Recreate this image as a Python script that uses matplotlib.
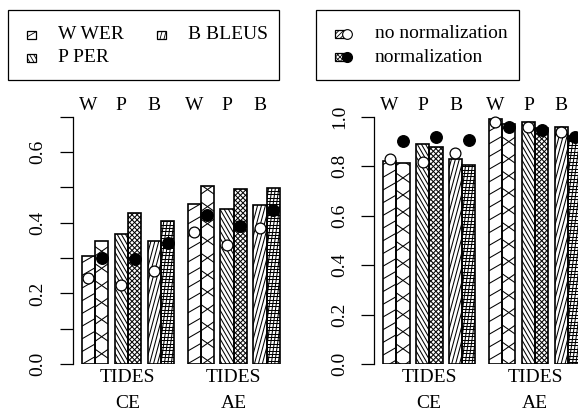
import numpy as np
import matplotlib
matplotlib.use("Agg")
import matplotlib.pyplot as plt
from matplotlib.patches import Rectangle
from matplotlib.collections import LineCollection
from matplotlib.transforms import IdentityTransform, blended_transform_factory

plt.rcParams['font.family'] = ['Liberation Serif', 'DejaVu Serif']

# data
metrics = ['W', 'P', 'B', 'W', 'P', 'B']
groups = ['CE', 'AE']

# left panel: bars (no normalization / normalization) and points
left_bar_nonorm = [0.307, 0.368, 0.348, 0.454, 0.440, 0.451]
left_bar_norm = [0.348, 0.427, 0.404, 0.504, 0.494, 0.499]
left_pt_nonorm = [0.243, 0.225, 0.264, 0.375, 0.338, 0.385]
left_pt_norm = [0.301, 0.298, 0.343, 0.423, 0.390, 0.435]

# right panel
right_bar_nonorm = [0.822, 0.888, 0.828, 0.989, 0.977, 0.957]
right_bar_norm = [0.814, 0.877, 0.803, 0.969, 0.956, 0.920]
right_pt_nonorm = [0.829, 0.818, 0.852, 0.980, 0.960, 0.940]
right_pt_norm = [0.902, 0.917, 0.906, 0.960, 0.946, 0.917]

# hatch styles (angles in degrees, spacing in px) per metric
hatch_nonorm = {'W': ([30], 11), 'P': ([120], 3.6), 'B': ([75], 3.8)}
hatch_norm = {'W': ([35, 145], 14), 'P': ([45, 135], 3.6), 'B': ([0, 82], 3.4)}

W, H = 578, 416
fig = plt.figure(figsize=(W / 100, H / 100), dpi=100)


def hatched_box(ax, x0, y0, w, h, angles, spacing, lw=1.2, hlw=0.75):
    rect = Rectangle((x0, y0), w, h, facecolor='white', edgecolor='none', zorder=2)
    ax.add_patch(rect)
    p0 = ax.transData.transform((x0, y0))
    p1 = ax.transData.transform((x0 + w, y0 + h))
    c = (p0 + p1) / 2
    r = np.hypot(*(p1 - p0)) / 2 + spacing
    nk = int(r / spacing) + 1
    segs = []
    for a in angles:
        t = np.radians(a)
        d = np.array([np.cos(t), np.sin(t)])
        n = np.array([-np.sin(t), np.cos(t)])
        for k in range(-nk, nk + 1):
            p = c + n * k * spacing
            segs.append([p - d * r, p + d * r])
    lc = LineCollection(segs, colors='black', linewidths=hlw,
                        transform=IdentityTransform(), zorder=2.5)
    ax.add_collection(lc, autolim=False)
    lc.set_clip_path(rect)
    ax.add_patch(Rectangle((x0, y0), w, h, facecolor='none', edgecolor='black',
                           lw=lw, zorder=3))


# pair positions: 3 pairs per group, small gap inside group, larger between
starts = []
pos = 0.0
for g in range(len(groups)):
    for m in range(3):
        starts.append(pos)
        pos += 2 + 0.47
    pos += 1.0 - 0.47
starts = np.array(starts)

unit = 13.33
xlim = (-0.65, 16.0)
ax_w = (xlim[1] - xlim[0]) * unit


def panel(left_px, ymax, yticks, ylabels, bnon, bnorm, pnon, pnorm):
    ax = fig.add_axes([left_px / W, (H - 364) / H, ax_w / W, 247.3 / H])
    ax.set_xlim(*xlim)
    ax.set_ylim(0, ymax)
    for s in ['top', 'right', 'bottom']:
        ax.spines[s].set_visible(False)
    ax.spines['left'].set_linewidth(0.9)
    ax.set_xticks([])
    ax.set_yticks(yticks)
    ax.set_yticklabels(ylabels, rotation=90, va='center', fontsize=14)
    ax.tick_params(axis='y', direction='out', length=9.5, width=0.9, pad=9.5)
    for i, s in enumerate(starts):
        m = metrics[i]
        hatched_box(ax, s, 0, 1, bnon[i], *hatch_nonorm[m])
        hatched_box(ax, s + 1, 0, 1, bnorm[i], *hatch_norm[m])
    ax.plot(starts + 0.5, pnon, 'o', ms=7.8, mfc='white', mec='black', mew=0.9,
            zorder=4, clip_on=False)
    ax.plot(starts + 1.5, pnorm, 'o', ms=8.3, mfc='black', mec='black',
            zorder=4, clip_on=False)
    tr = blended_transform_factory(ax.transData, fig.transFigure)
    for i, s in enumerate(starts):
        ax.text(s + 0.5, 1 - 106 / H, metrics[i], transform=tr, ha='center',
                va='center', fontsize=14)
    for g, name in enumerate(groups):
        gc = (starts[3 * g] + starts[3 * g + 2] + 2) / 2
        ax.text(gc, 1 - 378 / H, 'TIDES', transform=tr, ha='center',
                va='center', fontsize=14)
        ax.text(gc, 1 - 404 / H, name, transform=tr, ha='center',
                va='center', fontsize=14)
    return ax


panel(73, 0.7, np.arange(0, 0.71, 0.1),
      ['0.0', '', '0.2', '', '0.4', '', '0.6', ''],
      left_bar_nonorm, left_bar_norm, left_pt_nonorm, left_pt_norm)
panel(374.3, 1.0, np.arange(0, 1.01, 0.2),
      ['0.0', '0.2', '0.4', '0.6', '0.8', '1.0'],
      right_bar_nonorm, right_bar_norm, right_pt_nonorm, right_pt_norm)

# legends drawn in pixel coordinates on an overlay axes
lg = fig.add_axes([0, 0, 1, 1])
lg.set_xlim(0, W)
lg.set_ylim(H, 0)
lg.axis('off')
lg.add_patch(Rectangle((7.5, 9.5), 271, 70.5, facecolor='white', edgecolor='black', lw=0.9))
lg.add_patch(Rectangle((316, 9.5), 203, 70.5, facecolor='white', edgecolor='black', lw=0.9))

legend_left = [('W', 'W WER', 27, 34.5), ('B', 'B BLEUS', 157, 34.5), ('P', 'P PER', 27, 57.5)]
for m, label, x, y in legend_left:
    angles, sp = hatch_nonorm[m]
    hatched_box(lg, x, y + 4, 8.5, -8, angles, sp, lw=0.9, hlw=0.6)
    lg.text(x + 31, y, label, ha='left', va='center', fontsize=14)

hatched_box(lg, 335, 38, 10, -8, [45], 3.2, lw=0.9, hlw=0.6)
lg.plot([347], [34], 'o', ms=7, mfc='white', mec='black', mew=0.8, zorder=4)
lg.text(375, 34, 'no normalization', ha='left', va='center', fontsize=14)
hatched_box(lg, 335, 61, 10, -8, [45, 135], 3.2, lw=0.9, hlw=0.6)
lg.plot([347], [57], 'o', ms=7, mfc='black', mec='black', zorder=4)
lg.text(375, 57, 'normalization', ha='left', va='center', fontsize=14)

fig.savefig('out.png', dpi=100)
